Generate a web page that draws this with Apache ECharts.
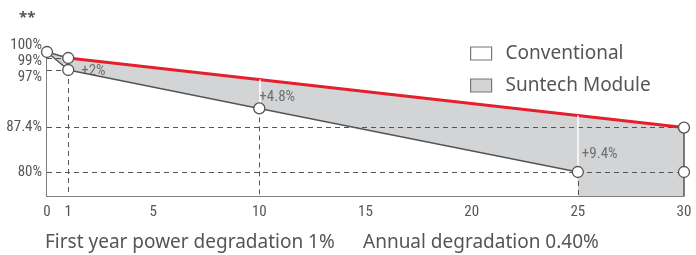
<!DOCTYPE html>
<html>
<head>
<meta charset="utf-8">
<script src="https://cdn.jsdelivr.net/npm/echarts@6/dist/echarts.min.js"></script>
<style>
  html, body { margin: 0; padding: 0; background: #fff; }
  #chart { width: 696px; height: 255px; }
</style>
</head>
<body>
<div id="chart"></div>
<script>
// data
var xTicks = [0, 1, 5, 10, 15, 20, 25, 30];
var yTicks = [80, 87.4, 97, 99, 100];
var suntechYears = [0, 1, 30];
var suntechValues = [100, 99, 87.4];
var convYears = [0, 1, 10, 25];
var convValues = [100, 97, 90.6, 80];
var gapYears = [1, 10, 25];
var gapSuntech = [99, 95.4, 89.4];
var gapConv = [97, 90.6, 80];

var yMin = 76, yMax = 100, xMax = 30;
var grey = '#555';
var condensed = '"Roboto Condensed", "DejaVu Sans Condensed", sans-serif';

function pairs(xs, ys) {
  var out = [];
  for (var i = 0; i < xs.length; i++) out.push([xs[i], ys[i]]);
  return out;
}

var suntechData = pairs(suntechYears, suntechValues);
var convData = pairs(convYears, convValues);
var lastConv = convData[convData.length - 1];
var lastSun = suntechData[suntechData.length - 1];

// dashed guide lines
var dashed = [];
dashed.push([{ coord: [0, suntechValues[1]] }, { coord: [suntechYears[1], suntechValues[1]] }]);
dashed.push([{ coord: [0, convValues[1]] }, { coord: [convYears[1], convValues[1]] }]);
dashed.push([{ coord: [0, lastSun[1]] }, { coord: [xMax, lastSun[1]] }]);
dashed.push([{ coord: [0, lastConv[1]] }, { coord: [xMax, lastConv[1]] }]);
for (var i = 1; i < convData.length; i++) {
  dashed.push([{ coord: [convData[i][0], convData[i][1]] }, { coord: [convData[i][0], yMin] }]);
}
// white gap lines + right edge
var solid = [];
for (var j = 1; j < gapYears.length; j++) {
  solid.push([{ coord: [gapYears[j], gapConv[j]], lineStyle: { color: '#fff', width: 1.5, type: 'solid' } },
              { coord: [gapYears[j], gapSuntech[j]] }]);
}
solid.push([{ coord: [lastSun[0], lastSun[1]], lineStyle: { color: grey, width: 1.5, type: 'solid' } },
            { coord: [lastSun[0], yMin] }]);

// marker points
var markers = suntechData.concat(convData.slice(1)).concat([[xMax, lastConv[1]]]);

// gap labels
var gapOffsets = [[8, 7], [-5, 3], [-1, 10]];
var gapData = [];
for (var k = 0; k < gapYears.length; k++) {
  var d = Math.round((gapSuntech[k] - gapConv[k]) * 10) / 10;
  gapData.push({
    value: [gapYears[k], (gapSuntech[k] + gapConv[k]) / 2],
    label: { formatter: '+' + d + '%', offset: gapOffsets[k] }
  });
}

// keep the three top labels apart
var yShift = { 100: [0, 0, 14, 0], 99: [6, 0, 0, 0], 97: [14, 0, 0, 0] };
var rich = {};
yTicks.forEach(function (v, n) {
  rich['t' + n] = { fontFamily: condensed, fontSize: 15, color: grey, padding: yShift[v] || [0, 0, 0, 0] };
});

var chart = echarts.init(document.getElementById('chart'));
chart.setOption({
  animation: false,
  title: {
    text: '**', left: 14, top: 5,
    textStyle: { color: grey, fontSize: 15, fontWeight: 'bold', fontFamily: 'Noto Sans' }
  },
  graphic: [
    { type: 'text', left: 45, top: 233, style: { text: 'First year power degradation 1%', fill: grey, font: '19px "Noto Sans"' } },
    { type: 'text', left: 363, top: 233, style: { text: 'Annual degradation 0.40%', fill: grey, font: '19px "Noto Sans"' } }
  ],
  legend: {
    orient: 'vertical', left: 470, top: 44, itemGap: 13, padding: 0,
    itemWidth: 21, itemHeight: 13, icon: 'rect',
    textStyle: { color: grey, fontSize: 19, fontFamily: 'Noto Sans', padding: [0, 0, 0, 9] },
    data: [
      { name: 'Conventional', itemStyle: { color: '#fff', borderColor: '#777', borderWidth: 1.2 } },
      { name: 'Suntech Module', itemStyle: { color: '#d3d4d6', borderColor: '#777', borderWidth: 1.2 } }
    ]
  },
  grid: { left: 47, right: 12, top: 52, bottom: 59 },
  xAxis: {
    type: 'value', min: 0, max: xMax,
    axisLine: { lineStyle: { color: grey, width: 1.5 } },
    axisTick: { show: false },
    splitLine: { show: false },
    axisLabel: { customValues: xTicks, color: grey, fontFamily: condensed, fontSize: 15, margin: 9 }
  },
  yAxis: {
    type: 'value', min: yMin, max: yMax,
    axisLine: { show: true, lineStyle: { color: grey, width: 1.5 } },
    axisTick: { show: false },
    splitLine: { show: false },
    axisLabel: {
      customValues: yTicks, margin: 5,
      formatter: function (v) {
        var n = yTicks.indexOf(v);
        return '{t' + n + '|' + v + '%}';
      },
      rich: rich
    }
  },
  series: [
    {
      name: 'Suntech Module', type: 'line', z: 1, data: suntechData,
      symbol: 'none', lineStyle: { color: grey, width: 1.5 },
      areaStyle: { color: '#d3d4d6', opacity: 1 }
    },
    {
      name: 'Conventional', type: 'line', z: 2, data: convData,
      symbol: 'none', lineStyle: { color: grey, width: 1.5 },
      areaStyle: { color: '#fff', opacity: 1 }
    },
    {
      name: 'guides', type: 'line', z: 3, data: [],
      markLine: {
        silent: true, symbol: 'none', label: { show: false },
        lineStyle: { color: grey, width: 1, type: [5, 4] },
        data: dashed.concat(solid)
      }
    },
    {
      name: 'red', type: 'line', z: 4, data: suntechData.slice(1),
      symbol: 'none', lineStyle: { color: '#e5202e', width: 3 }
    },
    {
      name: 'points', type: 'scatter', z: 5, data: markers,
      symbol: 'circle', symbolSize: 11,
      itemStyle: { color: '#fff', borderColor: grey, borderWidth: 1.3, opacity: 1 }
    },
    {
      name: 'gaps', type: 'scatter', z: 6, data: gapData, symbolSize: 0,
      label: { show: true, position: 'right', color: grey, fontFamily: condensed, fontSize: 15 }
    }
  ]
});
</script>
</body>
</html>
